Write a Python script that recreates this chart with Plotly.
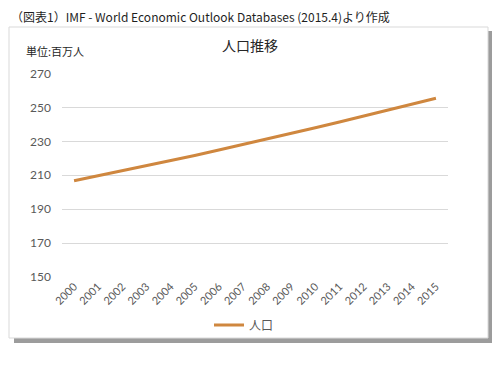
import plotly.graph_objects as go

years = [str(y) for y in range(2000, 2016)]
population = [206.8, 209.7, 212.6, 215.6, 218.6, 221.7, 224.9, 228.1,
              231.4, 234.7, 238.0, 241.4, 244.8, 248.3, 251.8, 255.4]
y_ticks = [150, 170, 190, 210, 230, 250, 270]

# page body has an 8px default margin; lay out in screen coords minus offset
OFF = 8
W, H = 500 - OFF, 367 - OFF
def px(x): return (x - OFF) / W
def py(y): return 1 - (y - OFF) / H

line_color = "#CF873F"
txt = "#595959"
cjk = "Noto Sans CJK JP"
num = "Lato, 'Noto Sans CJK JP', sans-serif"

fig = go.Figure()
fig.add_trace(go.Scatter(
    x=years, y=population, mode="lines", name="人口",
    line=dict(color=line_color, width=3),
))

fig.update_layout(
    width=W, height=H,
    margin=dict(l=0, r=0, t=0, b=0, autoexpand=False),
    paper_bgcolor="white",
    plot_bgcolor="rgba(0,0,0,0)",
    showlegend=True,
    legend=dict(orientation="h", x=px(244), xanchor="center", y=py(325), yanchor="middle",
                font=dict(family=cjk, size=12, color=txt), bgcolor="rgba(0,0,0,0)"),
    xaxis=dict(domain=[px(62), px(448)], type="category", tickangle=-45,
               range=[-0.5, 15.5], automargin=False,
               showgrid=False, showline=False, ticks="",
               tickfont=dict(family=num, size=11, color=txt)),
    yaxis=dict(domain=[py(277), py(73.5)], range=[150, 270], tickvals=y_ticks,
               automargin=False,
               showgrid=True, gridcolor="#D9D9D9", gridwidth=1, zeroline=False,
               showline=False, ticks="", ticklabelstandoff=10,
               tickfont=dict(family=num, size=12, color=txt)),
    shapes=[
        dict(type="rect", xref="paper", yref="paper", x0=px(14), x1=px(495), y0=py(343), y1=py(31),
             fillcolor="#9C9C9C", line=dict(width=0), layer="below"),
        dict(type="rect", xref="paper", yref="paper", x0=px(9), x1=px(488), y0=py(338), y1=py(27),
             fillcolor="white", line=dict(color="#D9D9D9", width=1), layer="below"),
    ],
    annotations=[
        dict(text="（図表1）IMF - World Economic Outlook Databases (2015.4)より作成",
             xref="paper", yref="paper", x=px(9), y=py(17), xanchor="left", yanchor="middle",
             showarrow=False, font=dict(family=cjk, size=12, color="#1F1F1F")),
        dict(text="人口推移", xref="paper", yref="paper", x=px(250), y=py(45),
             xanchor="center", yanchor="middle", showarrow=False,
             font=dict(family=cjk, size=14, color="#262626")),
        dict(text="単位:百万人", xref="paper", yref="paper", x=px(24), y=py(51),
             xanchor="left", yanchor="middle", showarrow=False,
             font=dict(family=cjk, size=11, color="#262626")),
    ],
)

fig.write_html("out.html")
